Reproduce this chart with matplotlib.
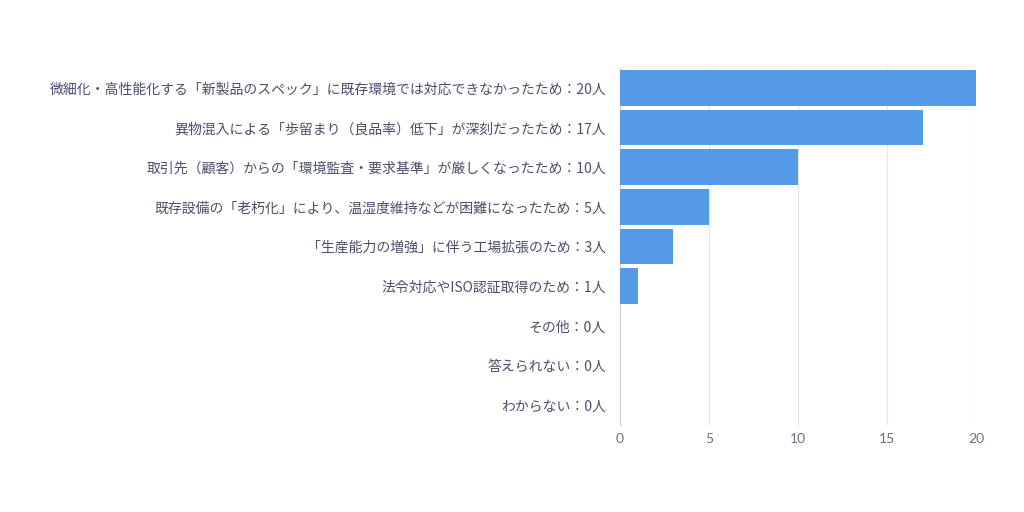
import matplotlib
matplotlib.use("Agg")
import matplotlib.pyplot as plt

plt.rcParams['font.family'] = ['Noto Sans CJK JP', 'DejaVu Sans']

# -------------------- DATA --------------------
categories = [
    "微細化・高性能化する「新製品のスペック」に既存環境では対応できなかったため",
    "異物混入による「歩留まり（良品率）低下」が深刻だったため",
    "取引先（顧客）からの「環境監査・要求基準」が厳しくなったため",
    "既存設備の「老朽化」により、温湿度維持などが困難になったため",
    "「生産能力の増強」に伴う工場拡張のため",
    "法令対応やISO認証取得のため",
    "その他",
    "答えられない",
    "わからない",
]
counts = [20, 17, 10, 5, 3, 1, 0, 0, 0]
labels = [f"{c}：{n}人" for c, n in zip(categories, counts)]
xticks = [0, 5, 10, 15, 20]

# -------------------- PLOT --------------------
fig = plt.figure(figsize=(10.24, 5.12), dpi=100)
ax = fig.add_axes([0.6055, 0.17, 0.348, 0.697])

pos = list(range(len(counts)))
ax.barh(pos, counts, height=0.9, color='#559be6', zorder=3)
ax.set_ylim(len(counts) - 0.5, -0.5)
ax.set_xlim(0, 20)
ax.set_yticks(pos)
ax.set_yticklabels(labels, fontsize=10, color='#4a4f6a')
ax.set_xticks(xticks)
ax.set_xticklabels([str(t) for t in xticks], fontsize=10, color='#6b6f80',
                   family=['Lato', 'DejaVu Sans'])
ax.tick_params(axis='y', length=0, pad=10)
ax.tick_params(axis='x', length=0, pad=6)
ax.grid(axis='x', color='#e6e6e6', linewidth=0.8, zorder=0)
for s in ['top', 'right', 'bottom']:
    ax.spines[s].set_visible(False)
ax.spines['left'].set_color('#cccccc')

fig.savefig("out.png", dpi=100)
